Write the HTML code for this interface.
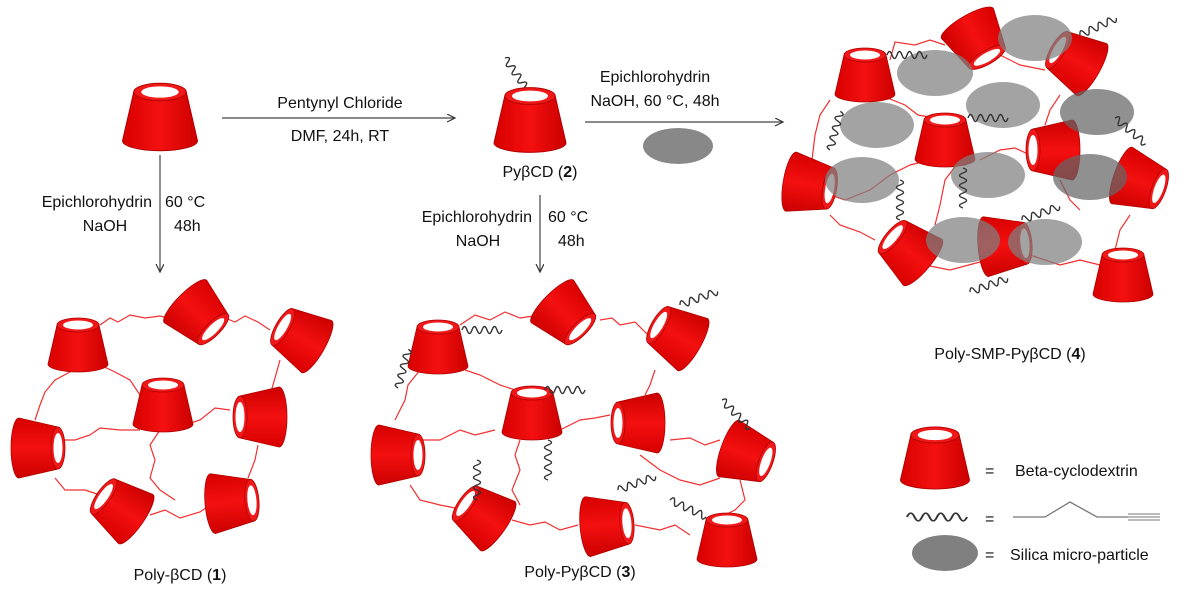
<!DOCTYPE html>
<html><head><meta charset="utf-8"><style>
body{margin:0;background:#fff;}
svg{display:block;font-family:"Liberation Sans",sans-serif;}
text{fill:#111;}
</style></head><body>
<svg width="1191" height="591" viewBox="0 0 1191 591" xmlns="http://www.w3.org/2000/svg">
<defs>
<linearGradient id="g" x1="0" x2="1" y1="0" y2="0">
<stop offset="0" stop-color="#d80000"/><stop offset="0.5" stop-color="#f41010"/><stop offset="1" stop-color="#cc0000"/>
</linearGradient>
<g id="c">
<path d="M-21,-20 L-30,19 A30,8 0 0 0 30,19 L21,-20 Z" fill="url(#g)" stroke="#b00000" stroke-width="0.8"/>
<ellipse cx="0" cy="-20" rx="21" ry="7" fill="#f01818" stroke="#b00000" stroke-width="0.8"/>
<ellipse cx="0" cy="-20" rx="15" ry="4.5" fill="#fff"/>
</g>
<path id="s" d="M0,0 q2.5,-7 5,0 t5,0 t5,0 t5,0 t5,0 t5,0 t5,0 t5,0" fill="none" stroke="#333" stroke-width="1.4"/>
<marker id="a" markerWidth="10" markerHeight="10" refX="8" refY="4" orient="auto" markerUnits="userSpaceOnUse"><path d="M0,0 L8,4 L0,8" fill="none" stroke="#333" stroke-width="1.2"/></marker>
</defs>

<!-- top reaction row -->
<use href="#c" transform="translate(160,117) scale(1.25)"/>
<line x1="222" y1="118" x2="455" y2="118" stroke="#444" stroke-width="1.2" marker-end="url(#a)"/>
<text x="340" y="108" font-size="16" text-anchor="middle">Pentynyl Chloride</text>
<text x="340" y="141" font-size="16" text-anchor="middle">DMF, 24h, RT</text>
<use href="#s" transform="translate(505,58) rotate(55)"/>
<use href="#c" transform="translate(530,120) scale(1.2)"/>
<text x="540" y="177" font-size="16" text-anchor="middle">PyβCD (<tspan font-weight="bold">2</tspan>)</text>
<text x="655" y="82" font-size="16" text-anchor="middle">Epichlorohydrin</text>
<text x="655" y="106" font-size="16" text-anchor="middle">NaOH, 60 °C, 48h</text>
<line x1="585" y1="122" x2="783" y2="122" stroke="#444" stroke-width="1.2" marker-end="url(#a)"/>
<ellipse cx="678" cy="146" rx="35" ry="18" fill="#888"/>

<!-- left vertical arrow -->
<line x1="160" y1="155" x2="160" y2="272" stroke="#444" stroke-width="1.2" marker-end="url(#a)"/>
<text x="152" y="207" font-size="16" text-anchor="end">Epichlorohydrin</text>
<text x="105" y="231" font-size="16" text-anchor="middle">NaOH</text>
<text x="165" y="207" font-size="16">60 °C</text>
<text x="174" y="231" font-size="16">48h</text>
<!-- middle vertical arrow -->
<line x1="540" y1="195" x2="540" y2="272" stroke="#444" stroke-width="1.2" marker-end="url(#a)"/>
<text x="532" y="222" font-size="16" text-anchor="end">Epichlorohydrin</text>
<text x="478" y="246" font-size="16" text-anchor="middle">NaOH</text>
<text x="548" y="222" font-size="16">60 °C</text>
<text x="558" y="246" font-size="16">48h</text>

<!-- network 1 links -->
<g fill="none" stroke="#f23030" stroke-width="1.2">
<path d="M100,325 L110,318 L118,322 L130,315 L145,318 L160,316 L175,320"/>
<path d="M225,318 L235,322 L245,316 L258,322 L270,330"/>
<path d="M70,372 L55,380 L45,392 L40,405 L35,420"/>
<path d="M100,365 L115,372 L130,380 L140,395"/>
<path d="M280,360 L275,378 L270,395"/>
<path d="M60,440 L75,440 L90,435 L100,428 L120,430 L140,430"/>
<path d="M185,425 L200,420 L215,408 L230,410"/>
<path d="M160,430 L150,445 L155,460 L150,478 L160,490 L175,500"/>
<path d="M55,478 L65,490 L85,490 L100,495"/>
<path d="M150,515 L165,510 L180,518 L200,512 L210,505"/>
<path d="M258,445 L255,460 L248,478"/>
</g>
<use href="#c" transform="translate(78,345)"/>
<use href="#c" transform="translate(199,315) rotate(135)"/>
<use href="#c" transform="translate(300,337) rotate(-60)"/>
<use href="#c" transform="translate(163,405)"/>
<use href="#c" transform="translate(260,417) rotate(-90)"/>
<use href="#c" transform="translate(38,448) rotate(90)"/>
<use href="#c" transform="translate(120,508) rotate(-55)"/>
<use href="#c" transform="translate(232,502) rotate(85)"/>
<text x="180" y="580" font-size="16" text-anchor="middle">Poly-βCD (<tspan font-weight="bold">1</tspan>)</text>

<!-- network 3 links -->
<g fill="none" stroke="#f23030" stroke-width="1.2">
<path d="M460,325 L475,315 L490,320 L505,312 L520,318 L540,315"/>
<path d="M600,320 L612,318 L620,325 L635,322 L648,335"/>
<path d="M420,370 L408,385 L405,400 L395,420"/>
<path d="M465,370 L480,375 L500,385 L515,390"/>
<path d="M655,370 L650,385 L645,395"/>
<path d="M420,440 L440,440 L460,430 L475,435 L495,430"/>
<path d="M560,430 L580,420 L595,418 L610,415"/>
<path d="M520,440 L515,455 L520,470 L512,490 L520,505"/>
<path d="M670,440 L690,438 L705,445 L720,440"/>
<path d="M410,485 L420,500 L440,505 L455,508"/>
<path d="M512,520 L530,525 L545,522 L560,530 L578,525"/>
<path d="M640,455 L660,470 L680,480 L700,485 L720,478"/>
<path d="M740,480 L745,500 L735,510 L725,515"/>
<path d="M635,525 L660,530 L675,525 L690,535"/>
</g>
<use href="#c" transform="translate(438,347)"/>
<use href="#c" transform="translate(566,315) rotate(135)"/>
<use href="#c" transform="translate(676,335) rotate(-60)"/>
<use href="#c" transform="translate(532,413)"/>
<use href="#c" transform="translate(638,423) rotate(-90)"/>
<use href="#c" transform="translate(398,455) rotate(90)"/>
<use href="#c" transform="translate(482,515) rotate(-55)"/>
<use href="#c" transform="translate(607,525) rotate(85)"/>
<use href="#c" transform="translate(747,455) rotate(110)"/>
<use href="#c" transform="translate(727,540)"/>
<use href="#s" transform="translate(462,330)"/>
<use href="#s" transform="translate(680,305) rotate(-20)"/>
<use href="#s" transform="translate(545,390)"/>
<use href="#s" transform="translate(398,388) rotate(-75)"/>
<use href="#s" transform="translate(722,400) rotate(45)"/>
<use href="#s" transform="translate(477,460) rotate(90)"/>
<use href="#s" transform="translate(548,440) rotate(90)"/>
<use href="#s" transform="translate(618,490) rotate(-20)"/>
<use href="#s" transform="translate(670,500) rotate(25)"/>
<text x="580" y="577" font-size="16" text-anchor="middle">Poly-PyβCD (<tspan font-weight="bold">3</tspan>)</text>

<!-- network 4 -->
<g fill="none" stroke="#f23030" stroke-width="1.2">
<path d="M890,60 L895,42 L915,45 L930,40 L945,45"/>
<path d="M1000,55 L1020,65 L1045,70"/>
<path d="M830,100 L820,115 L815,135 L812,160"/>
<path d="M880,95 L905,105 L918,115 L935,118"/>
<path d="M1060,95 L1050,110 L1045,125"/>
<path d="M830,195 L845,200 L870,190 L890,175 L910,165 L930,160"/>
<path d="M960,160 L945,180 L940,205 L935,225"/>
<path d="M980,160 L1000,150 L1015,148 L1030,155"/>
<path d="M1060,180 L1070,200 L1080,210"/>
<path d="M830,215 L840,225 L860,232 L875,240"/>
<path d="M925,265 L950,270 L980,262"/>
<path d="M1030,255 L1060,265 L1080,260 L1100,265"/>
<path d="M1130,215 L1120,230 L1115,250"/>
</g>
<use href="#c" transform="translate(865,75)"/>
<use href="#c" transform="translate(977,40) rotate(150)"/>
<use href="#c" transform="translate(1075,60) rotate(-60)"/>
<use href="#c" transform="translate(945,140)"/>
<use href="#c" transform="translate(810,185) rotate(100)"/>
<use href="#c" transform="translate(1053,150) rotate(-90)"/>
<use href="#c" transform="translate(1140,182) rotate(110)"/>
<use href="#c" transform="translate(908,250) rotate(-50)"/>
<use href="#c" transform="translate(1005,245) rotate(85)"/>
<use href="#c" transform="translate(1123,275)"/>
<g fill="#808080" opacity="0.72">
<ellipse cx="935" cy="73" rx="38" ry="23"/>
<ellipse cx="1035" cy="38" rx="37" ry="23"/>
<ellipse cx="1003" cy="105" rx="37" ry="23"/>
<ellipse cx="877" cy="125" rx="37" ry="23"/>
<ellipse cx="1097" cy="112" rx="37" ry="23" fill="#666"/>
<ellipse cx="862" cy="180" rx="37" ry="23"/>
<ellipse cx="988" cy="175" rx="37" ry="23"/>
<ellipse cx="1090" cy="177" rx="37" ry="23" fill="#666"/>
<ellipse cx="963" cy="240" rx="37" ry="23"/>
<ellipse cx="1045" cy="242" rx="37" ry="23"/>
</g>
<use href="#s" transform="translate(887,55)"/>
<use href="#s" transform="translate(1080,35) rotate(-25)"/>
<use href="#s" transform="translate(968,118)"/>
<use href="#s" transform="translate(830,150) rotate(-75)"/>
<use href="#s" transform="translate(1115,118) rotate(40)"/>
<use href="#s" transform="translate(900,180) rotate(90)"/>
<use href="#s" transform="translate(963,168) rotate(90)"/>
<use href="#s" transform="translate(1022,220) rotate(-20)"/>
<use href="#s" transform="translate(970,292) rotate(-20)"/>
<text x="1010" y="359" font-size="16" text-anchor="middle">Poly-SMP-PyβCD (<tspan font-weight="bold">4</tspan>)</text>

<!-- legend -->
<use href="#c" transform="translate(935,458) scale(1.15)"/>
<text x="985" y="476" font-size="16">=</text>
<text x="1015" y="476" font-size="16">Beta-cyclodextrin</text>
<use href="#s" transform="translate(907,517) scale(1.5,1.1)"/>
<text x="985" y="524" font-size="16">=</text>
<path d="M1013,517 L1045,517 L1070,502 L1097,517 L1128,517" fill="none" stroke="#777" stroke-width="1.3"/>
<path d="M1128,514 L1160,514 M1128,517 L1160,517 M1128,520 L1160,520" stroke="#777" stroke-width="1"/>
<ellipse cx="945" cy="553" rx="33" ry="18" fill="#808080"/>
<text x="985" y="560" font-size="16">=</text>
<text x="1010" y="560" font-size="16">Silica micro-particle</text>
</svg>
</body></html>
